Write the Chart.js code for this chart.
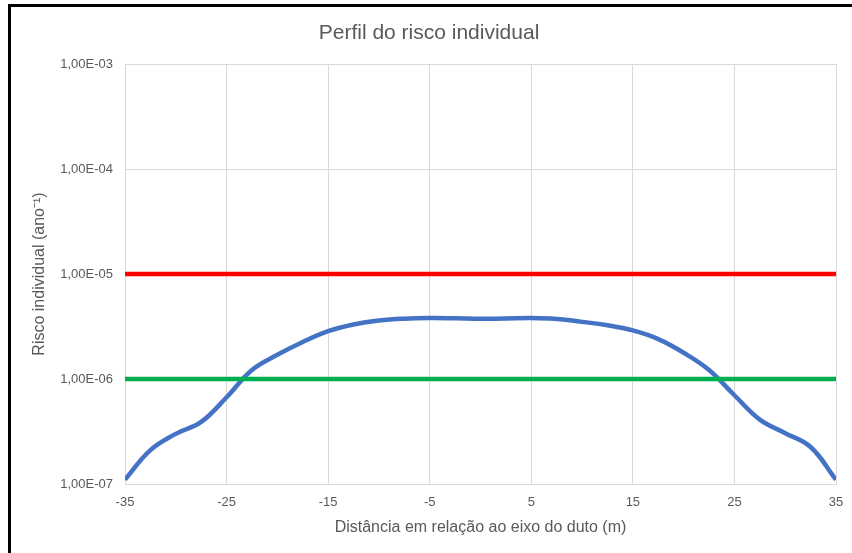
<!DOCTYPE html>
<html>
<head>
<meta charset="utf-8">
<script src="https://cdn.jsdelivr.net/npm/chart.js@4/dist/chart.umd.min.js"></script>
<style>
  html, body { margin: 0; padding: 0; background: #ffffff; }
  #wrap { position: relative; width: 852px; height: 553px; }
  canvas { display: block; }
</style>
</head>
<body>
<div id="wrap"><canvas id="c" width="852" height="553"></canvas></div>
<script>
// ---- Data ----
const xDist = [-35, -32.5, -30, -27.5, -25, -22.5, -20, -17.5, -15, -12.5, -10, -7.5, -5, -2.5, 0,
               2.5, 5, 7.5, 10, 12.5, 15, 17.5, 20, 22.5, 25, 27.5, 30, 32.5, 35];
const riskProfile = [1.1e-7, 2.1e-7, 3.0e-7, 3.9e-7, 6.7e-7, 1.22e-6, 1.7e-6, 2.25e-6, 2.85e-6, 3.3e-6,
                     3.6e-6, 3.75e-6, 3.8e-6, 3.78e-6, 3.74e-6, 3.77e-6, 3.8e-6, 3.72e-6, 3.5e-6, 3.25e-6,
                     2.9e-6, 2.4e-6, 1.78e-6, 1.22e-6, 7.0e-7, 4.1e-7, 3.05e-7, 2.25e-7, 1.1e-7];
const limitX = [-35, 35];
const limitUpper = [1e-5, 1e-5];
const limitLower = [1e-6, 1e-6];
const xTickValues = [-35, -25, -15, -5, 5, 15, 25, 35];
const yTickValues = [1e-7, 1e-6, 1e-5, 1e-4, 1e-3];
const yTickLabels = ['1,00E-07', '1,00E-06', '1,00E-05', '1,00E-04', '1,00E-03'];

const toPoints = (xs, ys) => xs.map((x, i) => ({ x: x, y: ys[i] }));

const frame = {
  id: 'frame',
  afterDraw(chart) {
    const ctx = chart.ctx;
    ctx.save();
    ctx.fillStyle = '#000000';
    ctx.fillRect(8, 4, 3, 549);
    ctx.fillRect(8, 4, 844, 3);
    ctx.restore();
  }
};

const txt = '#595959';
const grid = '#d9d9d9';
const fam = 'Liberation Sans, Arial, sans-serif';

new Chart(document.getElementById('c'), {
  type: 'line',
  data: {
    datasets: [
      {
        label: 'Limite superior',
        data: toPoints(limitX, limitUpper),
        borderColor: '#ff0000',
        borderWidth: 4.5,
        pointRadius: 0,
        tension: 0
      },
      {
        label: 'Limite inferior',
        data: toPoints(limitX, limitLower),
        borderColor: '#00b050',
        borderWidth: 4.5,
        pointRadius: 0,
        tension: 0
      },
      {
        label: 'Risco individual',
        data: toPoints(xDist, riskProfile),
        borderColor: '#4472c4',
        borderWidth: 4.5,
        pointRadius: 0,
        tension: 0.4
      }
    ]
  },
  options: {
    responsive: false,
    animation: false,
    layout: { padding: { left: 22, right: 16, top: 10, bottom: 0 } },
    plugins: {
      legend: { display: false },
      tooltip: { enabled: false },
      title: {
        display: true,
        text: 'Perfil do risco individual',
        color: txt,
        font: { family: fam, size: 21, weight: 'normal' },
        padding: { top: 10.4, bottom: 18.4 }
      }
    },
    scales: {
      x: {
        type: 'linear',
        min: -35,
        max: 35,
        afterBuildTicks: (s) => { s.ticks = xTickValues.map(v => ({ value: v })); },
        afterFit: (s) => { s.height = 69; s.paddingRight = 2; s.paddingLeft = 2; },
        ticks: {
          color: txt,
          padding: 11,
          maxRotation: 0,
          font: { family: fam, size: 13 },
          callback: (v) => String(v)
        },
        grid: { color: grid, lineWidth: 1, drawTicks: false },
        border: { color: grid, width: 1 },
        title: {
          display: true,
          text: 'Distância em relação ao eixo do duto (m)',
          color: txt,
          font: { family: fam, size: 16 },
          padding: { top: 0, bottom: 15.4 }
        }
      },
      y: {
        type: 'logarithmic',
        min: 1e-7,
        max: 1e-3,
        afterBuildTicks: (s) => { s.ticks = yTickValues.map(v => ({ value: v, major: true })); },
        afterFit: (s) => { s.width = 103; },
        ticks: {
          color: txt,
          padding: 12,
          font: { family: fam, size: 13 },
          callback: (v) => {
            const i = yTickValues.findIndex(t => Math.abs(Math.log10(t) - Math.log10(v)) < 1e-6);
            return i >= 0 ? yTickLabels[i] : '';
          }
        },
        grid: { color: grid, lineWidth: 1, drawTicks: false },
        border: { color: grid, width: 1 },
        title: {
          display: true,
          text: 'Risco individual (ano⁻¹)',
          color: txt,
          font: { family: fam, size: 16 },
          padding: { top: 8.4, bottom: 0 }
        }
      }
    }
  },
  plugins: [frame]
});
</script>
</body>
</html>
